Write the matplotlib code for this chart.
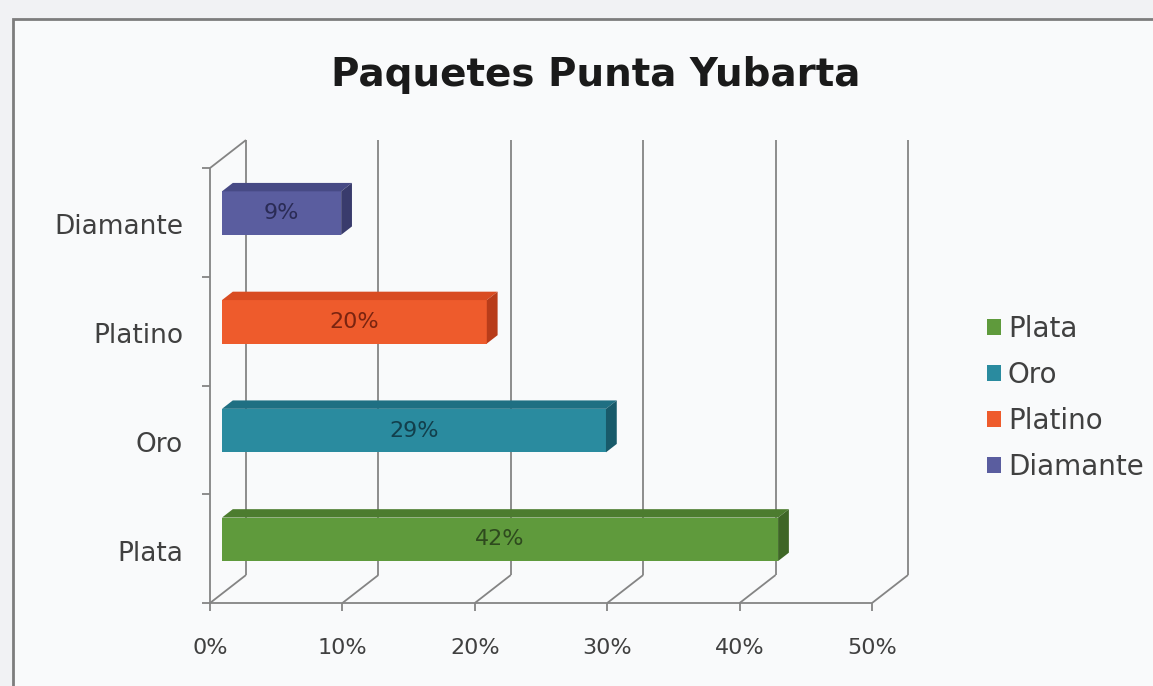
import matplotlib.pyplot as plt
from matplotlib.patches import Polygon, Rectangle, Patch

# Datos del grafico
categorias = ['Plata', 'Oro', 'Platino', 'Diamante']
valores = [42, 29, 20, 9]
etiquetas = ['42%', '29%', '20%', '9%']
ticks_x = [0, 10, 20, 30, 40, 50]

colores = ['#5f9a3c', '#2a8b9f', '#ee5b2c', '#5a5d9f']
colores_top = ['#4c7c2f', '#1f6f82', '#d94c22', '#474a85']
colores_lado = ['#3e6626', '#185a6a', '#b83c1a', '#393b6c']
colores_texto = ['#2e4a1e', '#123f4c', '#7a2410', '#2a2b55']

W, H = 1153, 686
fig = plt.figure(figsize=(W / 100, H / 100), dpi=100)
fig.patch.set_facecolor('#f1f2f4')

# marco del grafico
marco = Rectangle((13 / W, -0.05), 1.1, (H - 19) / H + 0.05, transform=fig.transFigure,
                  facecolor='#f9fafb', edgecolor='#7d7d7d', lw=2, zorder=-1)
fig.patches.append(marco)

ax = fig.add_axes([222 / W, 92.3 / H, 662 / W, 435 / H])
ax.set_xlim(0, 50)
ax.set_ylim(-0.5, 3.5)
ax.axis('off')

# profundidad 3D en unidades de datos
p0 = ax.transData.transform((0, 0))
sx = ax.transData.transform((1, 0))[0] - p0[0]
sy = ax.transData.transform((0, 1))[1] - p0[1]
dx, dy = 36 / sx, 28 / sy
fx, fy = -dx / 3, -dy / 3
bx, by = 2 * dx / 3, 2 * dy / 3
y0, y1 = -0.5, 3.5
gris = '#848484'
kw = dict(color=gris, lw=1.3, clip_on=False, zorder=1, solid_capstyle='butt')

for t in ticks_x:
    ax.plot([t + bx, t + bx], [y0 + by, y1 + by], **kw)
    ax.plot([t + fx, t + bx], [y0 + fy, y0 + by], **kw)
    ax.plot([t + fx, t + fx], [y0 + fy, y0 + fy - 8 / sy], **kw)
    ax.text(t + fx, y0 + fy - 45 / sy, f'{t}%', ha='center', va='center',
            fontsize=16, color='#404040')

ax.plot([ticks_x[0] + fx, ticks_x[-1] + fx], [y0 + fy, y0 + fy], **kw)
ax.plot([fx, fx], [y0 + fy, y1 + fy], **kw)
ax.plot([fx, bx], [y1 + fy, y1 + by], **kw)
for k in range(len(categorias) + 1):
    yb = k - 0.5 + fy
    ax.plot([fx - 8 / sx, fx], [yb, yb], **kw)

for i, cat in enumerate(categorias):
    ax.text(fx - 27 / sx, i + fy - 5 / sy, cat, ha='right', va='center', fontsize=19,
            color='#404040')

# barras 3D
ancho = 0.4
ddx, ddy = 0.3 * dx, 0.3 * dy
for i, v in enumerate(valores):
    bot, top = i - ancho / 2, i + ancho / 2
    ax.add_patch(Rectangle((0, bot), v, ancho, facecolor=colores[i], edgecolor='none',
                           zorder=3, clip_on=False))
    ax.add_patch(Polygon([(0, top), (v, top), (v + ddx, top + ddy), (ddx, top + ddy)],
                         facecolor=colores_top[i], edgecolor='none', zorder=3, clip_on=False))
    ax.add_patch(Polygon([(v, bot), (v + ddx, bot + ddy), (v + ddx, top + ddy), (v, top)],
                         facecolor=colores_lado[i], edgecolor='none', zorder=3, clip_on=False))
    ax.text(v / 2, i, etiquetas[i], ha='center', va='center', fontsize=16,
            color=colores_texto[i], zorder=4)

fig.text(596 / W, 1 - 75 / H, 'Paquetes Punta Yubarta', fontsize=28, weight='bold',
         ha='center', va='center', color='#1a1a1a')

handles = [Patch(facecolor=c, edgecolor='none') for c in colores]
fig.legend(handles, categorias, loc='center left', bbox_to_anchor=(987 / W, 1 - 398 / H),
           frameon=False, fontsize=20, handlelength=0.5, handleheight=0.5,
           handletextpad=0.25, labelspacing=0.65, borderpad=0, borderaxespad=0,
           labelcolor='#404040')

fig.savefig('out.png', dpi=100, facecolor=fig.get_facecolor())
